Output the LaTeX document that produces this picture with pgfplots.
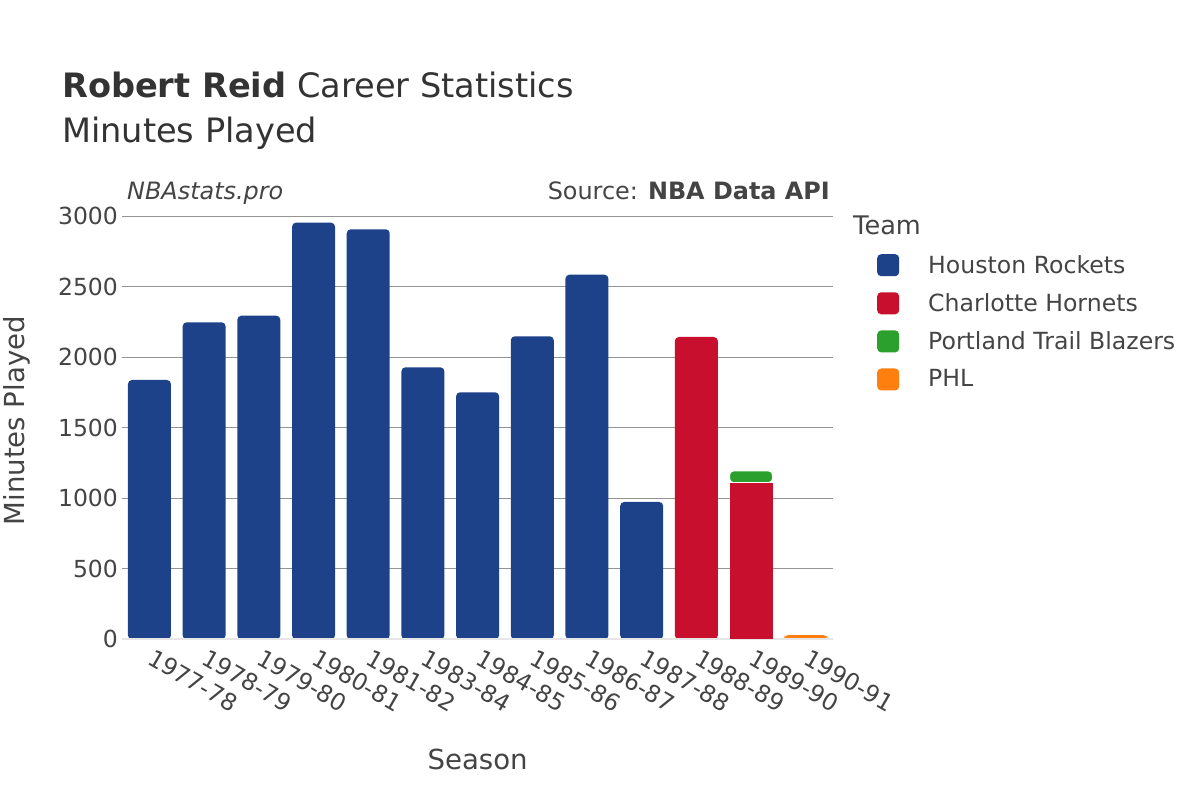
\documentclass[border=0pt]{standalone}
\usepackage{fontspec}
\setmainfont{DejaVu Sans}
\usepackage{pgfplots}
\pgfplotsset{compat=1.18}
\definecolor{hou}{HTML}{1D428A}
\definecolor{cha}{HTML}{C8102E}
\definecolor{por}{HTML}{2CA02C}
\definecolor{phl}{HTML}{FF7F0E}
\definecolor{txt}{HTML}{444444}
\definecolor{ttl}{HTML}{333333}
\definecolor{zeroline}{HTML}{E6E6E6}
\pgfplotsset{
  common/.style={
    at={(122.1pt,160.7pt)}, anchor=south west,
    scale only axis, width=711pt, height=437.1pt,
    xmin=-0.5, xmax=12.5, ymin=0, ymax=3100,
  }
}
\begin{document}
\begin{tikzpicture}
\path[use as bounding box] (0,0) rectangle (1200pt,800pt);
\node[anchor=base west, text=ttl, inner sep=0pt] at (62pt,702pt) {\fontsize{33.6}{40}\selectfont\textbf{Robert Reid} Career Statistics};
\node[anchor=base west, text=ttl, inner sep=0pt] at (62pt,657pt) {\fontsize{33.6}{40}\selectfont Minutes Played};
\node[anchor=base west, text=txt, inner sep=0pt] at (127pt,600pt) {\fontsize{23.9}{28}\selectfont\itshape NBAstats.pro};
\node[anchor=base east, text=txt, inner sep=0pt] at (830pt,600pt) {\fontsize{23.9}{28}\selectfont Source: \textbf{NBA Data API}};
\node[anchor=base west, text=txt, inner sep=0pt] at (853pt,565pt) {\fontsize{25.6}{30}\selectfont Team};
\begin{axis}[common,
  /pgf/number format/assume math mode=true,
  /pgf/number format/1000 sep={},
  scaled y ticks=false,
  axis line style={draw=none},
  tick style={draw=none},
  ytick={0,500,1000,1500,2000,2500,3000},
  ymajorgrids, grid style={color=black!42, line width=1pt},
  xtick={0,1,2,3,4,5,6,7,8,9,10,11,12},
  xticklabels={1977-78,1978-79,1979-80,1980-81,1981-82,1983-84,1984-85,1985-86,1986-87,1987-88,1988-89,1989-90,1990-91},
  ticklabel style={text=txt, font=\fontsize{23.5}{27}\selectfont},
  xticklabel style={rotate=-30, anchor=north west, inner sep=0pt, xshift=9pt, yshift=-5pt},
  yticklabel style={anchor=east, inner sep=0pt, xshift=-4pt},
  xlabel={Season}, ylabel={Minutes Played},
  label style={text=txt, font=\fontsize{27.6}{32}\selectfont},
  xlabel style={at={(axis description cs:0.5,-0.299)}, anchor=base},
  ylabel style={at={(axis description cs:-0.148,0.5)}, anchor=center},
  legend style={at={(axis description cs:1.0617,0.8815)}, anchor=north west, draw=none, fill=none,
    inner sep=0pt, font=\fontsize{23.6}{28}\selectfont, text=txt, row sep=16.1pt,
    nodes={inner sep=0pt},
    /tikz/every odd column/.append style={column sep=29pt}},
  legend cell align=left,
  legend image code/.code={\fill[#1, rounded corners=4pt] (0pt,-11.4pt) rectangle (22pt,10.6pt);},
]
\addplot[ybar, bar width=0.786, bar shift=0pt, fill=hou, draw=none, rounded corners=4pt, forget plot]
  coordinates {(0,1839) (1,2248) (2,2295) (3,2955) (4,2908) (5,1929) (6,1752) (7,2149) (8,2586) (9,974)};
\addplot[ybar, bar width=0.786, bar shift=0pt, fill=cha, draw=none, rounded corners=4pt, forget plot]
  coordinates {(10,2144)};
\addplot[ybar, bar width=0.786, bar shift=0pt, fill=phl, draw=none, rounded corners=4pt, forget plot]
  coordinates {(12,30)};
\draw[zeroline, line width=2pt] (axis cs:-0.5,0) -- (axis cs:12.5,0);
\addlegendimage{fill=hou, draw=none}
\addlegendentry{Houston Rockets}
\addlegendimage{fill=cha, draw=none}
\addlegendentry{Charlotte Hornets}
\addlegendimage{fill=por, draw=none}
\addlegendentry{Portland Trail Blazers}
\addlegendimage{fill=phl, draw=none}
\addlegendentry{PHL}
\end{axis}
\begin{axis}[common, hide axis, ybar stacked, bar width=0.786]
\addplot[fill=cha, draw=none] coordinates {(11,1111)};
\addplot[fill=por, draw=white, line width=1pt, rounded corners=4pt] coordinates {(11,83)};
\end{axis}
\end{tikzpicture}
\end{document}
